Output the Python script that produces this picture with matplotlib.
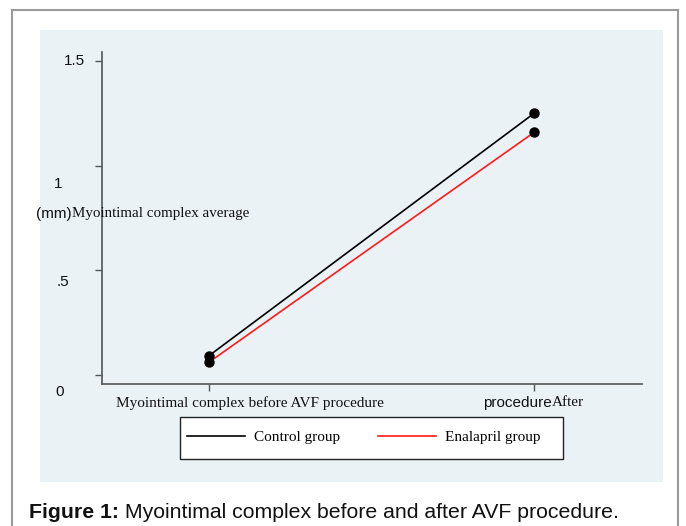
import matplotlib
matplotlib.use("Agg")
import matplotlib.pyplot as plt
from matplotlib.patches import Rectangle
from matplotlib.lines import Line2D

# ---- data ----
stages = ["Myointimal complex before AVF procedure", "After procedure"]
control = [0.092, 1.250]
enalapril = [0.061, 1.159]
series_names = ["Control group", "Enalapril group"]
yticks = [0, 0.5, 1, 1.5]
ytick_labels = ["0", ".5", "1", "1.5"]
caption_bold = "Figure 1:"
caption_rest = " Myointimal complex before and after AVF procedure."

W, H = 686, 526
fig = plt.figure(figsize=(W / 100, H / 100), dpi=100)
fig.patch.set_facecolor("white")

def fx(px):
    return px / W

def fy(py):
    return 1 - py / H

SERIF = "Liberation Serif"
SANS = "Liberation Sans"

# outer border
for xs, ys in [([12, 12], [10, 530]), ([678, 678], [10, 530]), ([12, 678], [10, 10])]:
    fig.add_artist(Line2D([fx(v) for v in xs], [fy(v) for v in ys], color="#9a9a9a", lw=1.5))

# light panel
fig.add_artist(Rectangle((fx(40), fy(482)), fx(663) - fx(40), fy(30) - fy(482),
                         transform=fig.transFigure, facecolor="#eaf2f6", edgecolor="none", zorder=0))

ax = fig.add_axes([fx(102), fy(384), fx(642) - fx(102), fy(52) - fy(384)])
ax.set_facecolor("none")
ax.set_xlim(-0.329, 1.332)
ax.set_ylim(-0.043, 1.543)
x = list(range(len(stages)))

l1, = ax.plot(x, control, color="black", lw=1.2, label=series_names[0], zorder=3)
l2, = ax.plot(x, enalapril, color="#ff1a1a", lw=1.2, label=series_names[1], zorder=3)
ax.plot(x, control, ls="none", marker="o", ms=6.5, color="black", zorder=4)
ax.plot(x, enalapril, ls="none", marker="o", ms=6.5, color="black", zorder=4)

for s in ["top", "right"]:
    ax.spines[s].set_visible(False)
for s in ["left", "bottom"]:
    ax.spines[s].set_color("#555555")
    ax.spines[s].set_linewidth(1.2)

ax.set_yticks(yticks)
ax.set_yticklabels([""] * len(yticks))
ax.set_xticks(x)
ax.set_xticklabels([""] * len(x))
ax.tick_params(axis="y", length=5, width=1, color="#555555")
ax.tick_params(axis="x", length=5, width=1, color="#555555")

# y tick labels (offset as in reference)
ylab_pos = {"1.5": (64, 61), "1": (54, 184), ".5": (57, 282), "0": (55, 392)}
for lab in ytick_labels:
    px, py = ylab_pos[lab]
    fig.text(fx(px), fy(py), lab, family=SANS, fontsize=11, ha="left", va="center", color="#111111")

fig.canvas.draw()
r = fig.canvas.get_renderer()

def mixed(parts, px, py):
    cur = px
    for txt, fam, kw in parts:
        t = fig.text(fx(cur), fy(py), txt, family=fam, ha="left", va="center", color="#111111", **kw)
        bb = t.get_window_extent(renderer=r)
        cur += bb.width

# y label
mixed([("(mm)", SANS, dict(fontsize=11)), ("Myointimal complex average", SERIF, dict(fontsize=10.8))], 36, 214)
# x tick labels
mixed([(stages[0], SERIF, dict(fontsize=11))], 116, 403)
mixed([("procedure", SANS, dict(fontsize=11)), ("After", SERIF, dict(fontsize=11))], 483, 403)

# legend box and legend
fig.add_artist(Rectangle((fx(180), fy(459)), fx(563) - fx(180), fy(417) - fy(459),
                         transform=fig.transFigure, facecolor="white", edgecolor="#222222",
                         lw=1.0, zorder=2))
leg = fig.legend(handles=[l1, l2], labels=series_names, loc="center left", ncol=2,
                 bbox_to_anchor=(fx(187), fy(437)),
                 prop={"family": SERIF, "size": 11}, frameon=False,
                 handlelength=3.8, handletextpad=0.6, columnspacing=2.45,
                 borderpad=0, borderaxespad=0)
leg.set_zorder(3)

# caption
mixed([(caption_bold, SANS, dict(fontsize=15.3, weight="bold")), (caption_rest, SANS, dict(fontsize=15.3))], 29, 512)

fig.savefig("out.png", dpi=100, facecolor="white")
